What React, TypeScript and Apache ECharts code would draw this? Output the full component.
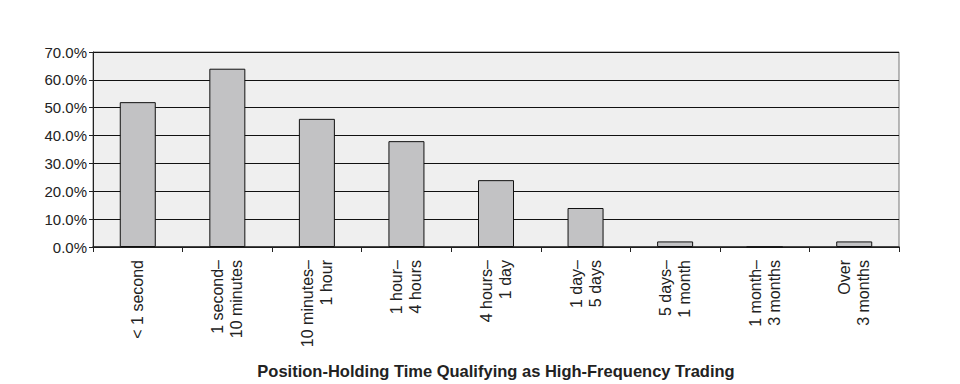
import React, { useEffect, useRef } from "react";
import * as echarts from "echarts";

const categories = [
  "< 1 second",
  "1 second–\n10 minutes",
  "10 minutes–\n1 hour",
  "1 hour–\n4 hours",
  "4 hours–\n1 day",
  "1 day–\n5 days",
  "5 days–\n1 month",
  "1 month–\n3 months",
  "Over\n3 months",
];
const values = [52, 64, 46, 38, 24, 14, 2, 0, 2];
const xTitle = "Position-Holding Time Qualifying as High-Frequency Trading";

export default function App() {
  const ref = useRef<HTMLDivElement>(null);
  useEffect(() => {
    if (!ref.current) return;
    const chart = echarts.init(ref.current, undefined, { renderer: "svg" });
    chart.setOption({
      animation: false,
      textStyle: { fontFamily: "Liberation Sans, Arial, sans-serif" },
      grid: {
        left: 85,
        right: 53,
        top: 44,
        bottom: 135,
        show: true,
        backgroundColor: "#efefef",
        borderColor: "#777",
        borderWidth: 1,
      },
      xAxis: {
        type: "category",
        data: categories,
        axisLine: { lineStyle: { color: "#222", width: 1.5 } },
        axisTick: { show: true, alignWithLabel: false, length: 5, lineStyle: { color: "#222" } },
        axisLabel: {
          rotate: 90,
          interval: 0,
          color: "#222",
          fontSize: 16,
          lineHeight: 19,
          margin: 13,
          align: "right",
        },
        name: xTitle,
        nameLocation: "middle",
        nameGap: 115,
        nameTextStyle: { fontWeight: "bold", fontSize: 16.5, color: "#222" },
      },
      yAxis: {
        type: "value",
        min: 0,
        max: 70,
        interval: 10,
        axisLine: { show: true, lineStyle: { color: "#222" } },
        axisTick: { show: true, length: 4, lineStyle: { color: "#222" } },
        axisLabel: {
          color: "#222",
          fontSize: 15,
          margin: 6,
          formatter: (v: number) => v.toFixed(1) + "%",
        },
        splitLine: { lineStyle: { color: "#111", width: 1 } },
      },
      series: [
        {
          type: "bar",
          data: values,
          barWidth: 36,
          itemStyle: { color: "#c2c2c4", borderColor: "#111", borderWidth: 1 },
        },
      ],
    });
    return () => chart.dispose();
  }, []);
  return <div ref={ref} style={{ width: 944, height: 376 }} />;
}
